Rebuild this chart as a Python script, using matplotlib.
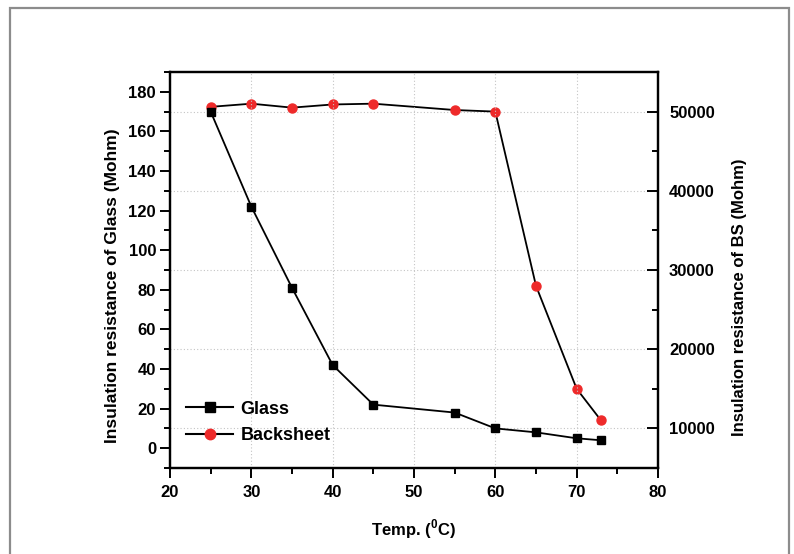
import matplotlib.pyplot as plt
from matplotlib.lines import Line2D
from matplotlib.patches import Rectangle
from matplotlib.ticker import MultipleLocator

plt.rcParams['font.family'] = 'Liberation Sans'
plt.rcParams['font.weight'] = 'bold'
plt.rcParams['axes.labelweight'] = 'bold'
plt.rcParams['mathtext.fontset'] = 'custom'
plt.rcParams['mathtext.rm'] = 'Liberation Sans:bold'
plt.rcParams['mathtext.bf'] = 'Liberation Sans:bold'

temp_glass = [25, 30, 35, 40, 45, 55, 60, 65, 70, 73]
r_glass = [170, 122, 81, 42, 22, 18, 10, 8, 5, 4]
temp_bs = [25, 30, 35, 40, 45, 55, 60, 65, 70, 73]
r_bs = [50600, 51000, 50500, 50900, 51000, 50200, 50000, 28000, 15000, 11000]

fig = plt.figure(figsize=(7.94, 5.54), dpi=100)
ax = fig.add_axes([170 / 794, 1 - 468 / 554, 488 / 794, 396 / 554])
ax2 = ax.twinx()
ax.set_zorder(ax2.get_zorder() + 1)
ax.patch.set_visible(False)

# page frame
fig.patches.append(Rectangle((9.5 / 794, -0.05), 779 / 794, 1.05 - 8 / 554,
                             transform=fig.transFigure, fill=False,
                             edgecolor='#8c8c8c', linewidth=1.6))

ax.plot(temp_glass, r_glass, color='k', lw=1.3, marker='s', ms=5.5,
        mfc='k', mec='k', zorder=3)
ax2.plot(temp_bs, r_bs, color='k', lw=1.3, marker='o', ms=6.5,
         mfc='#ee2a2a', mec='#ee2a2a', zorder=3)

ax.set_xlim(20, 80)
ax.set_ylim(-10, 190)
ax2.set_ylim(5000, 55000)

ax.xaxis.set_major_locator(MultipleLocator(10))
ax.xaxis.set_minor_locator(MultipleLocator(5))
ax.yaxis.set_major_locator(MultipleLocator(20))
ax.yaxis.set_minor_locator(MultipleLocator(10))
ax2.yaxis.set_major_locator(MultipleLocator(10000))
ax2.yaxis.set_minor_locator(MultipleLocator(5000))
ax2.set_yticks([10000, 20000, 30000, 40000, 50000])

ax.tick_params(axis='both', which='major', direction='out', length=7,
               width=1.4, labelsize=12, pad=3)
ax.tick_params(axis='x', which='major', pad=5)
ax.tick_params(axis='both', which='minor', direction='out', length=4, width=1.4)
ax.tick_params(top=False, right=False)
ax2.tick_params(axis='y', which='major', direction='in', length=8, width=1.4,
                labelsize=12, pad=8)
ax2.tick_params(axis='y', which='minor', direction='in', length=4, width=1.4)

for a in (ax, ax2):
    for sp in a.spines.values():
        sp.set_linewidth(1.6)

ax.grid(axis='x', which='major', linestyle=(0, (1, 2)), color='#c4c4c4', lw=0.8)
ax2.grid(axis='y', which='major', linestyle=(0, (1, 2)), color='#c4c4c4', lw=0.8)
ax2.set_axisbelow(True)

ax.set_xlabel('Temp. ($^{0}$C)', fontsize=12, labelpad=13)
ax.set_ylabel('Insulation resistance of Glass (Mohm)', fontsize=12.5)
ax2.set_ylabel('Insulation resistance of BS (Mohm)', fontsize=12)
ax.yaxis.set_label_coords(-0.103, 0.46)
ax2.yaxis.set_label_coords(1.152, 0.43)

handles = [
    Line2D([0], [0], color='k', lw=1.5, marker='s', ms=6.5, mfc='k', mec='k'),
    Line2D([0], [0], color='k', lw=1.5, marker='o', ms=7.5, mfc='#ee2a2a', mec='#ee2a2a'),
]
ax.legend(handles, ['Glass', 'Backsheet'], loc='lower left',
          bbox_to_anchor=(0.0, 0.02), frameon=False, fontsize=13,
          numpoints=1, handlelength=2.6, handletextpad=0.4, labelspacing=0.5)

fig.savefig('out.png', dpi=100, facecolor='w')
